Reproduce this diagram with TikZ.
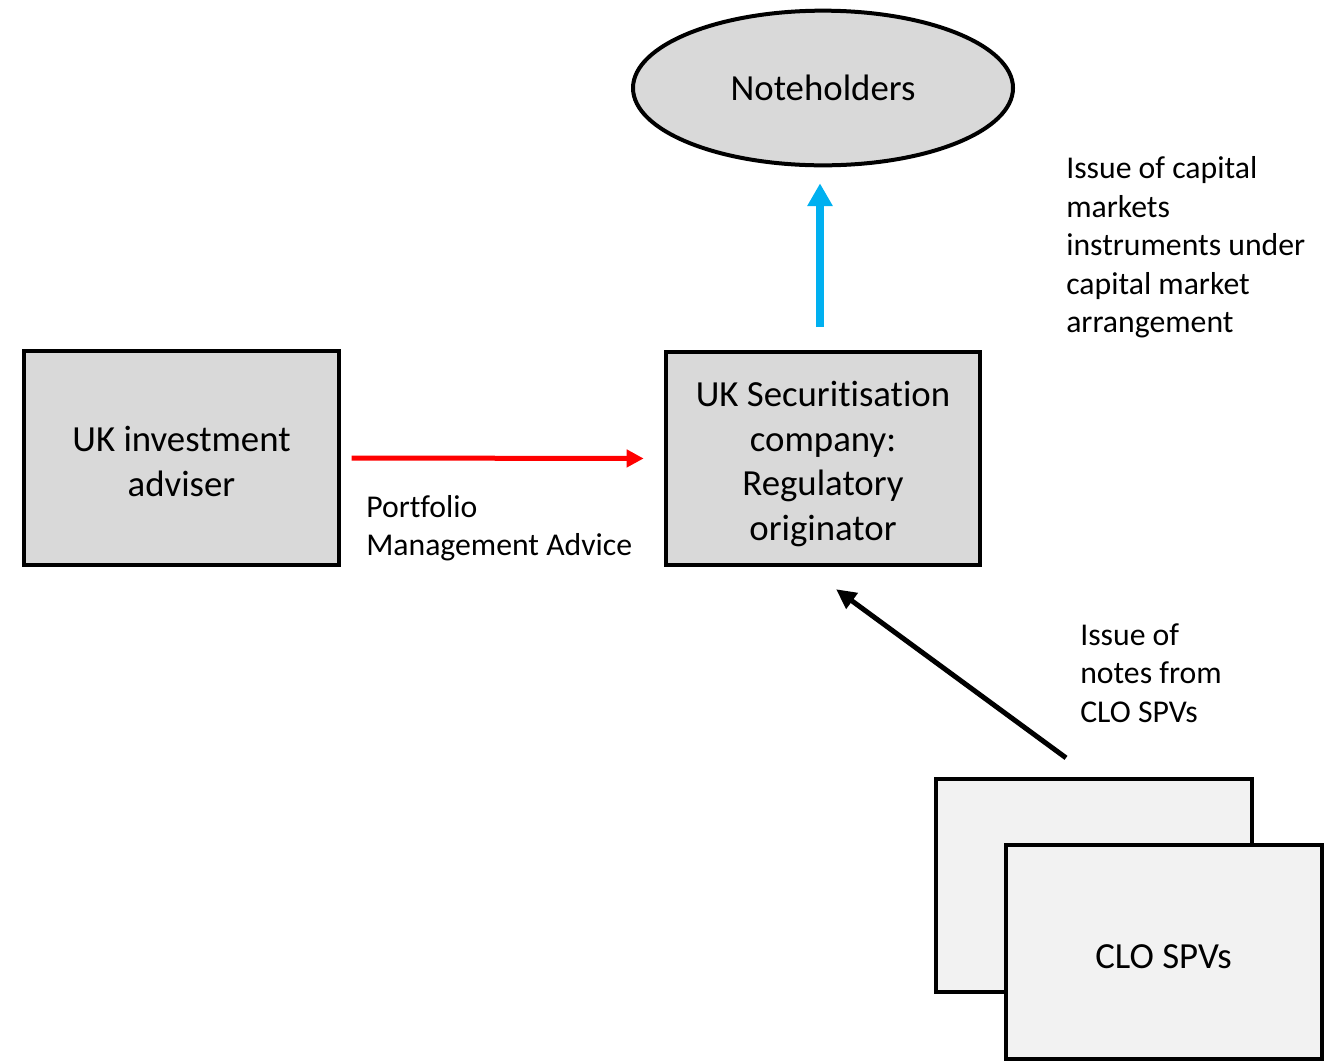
\documentclass[tikz,border=0pt]{standalone}
\usepackage{fontspec}
\setmainfont{Carlito}[Ligatures={NoCommon}]
\usetikzlibrary{arrows.meta,shapes.geometric,calc}
\definecolor{boxgray}{HTML}{D9D9D9}
\definecolor{lightgray2}{HTML}{F2F2F2}
\definecolor{arrblue}{HTML}{00B0F0}
\definecolor{arrred}{HTML}{FF0000}
\begin{document}
\begin{tikzpicture}[x=0.75pt,y=-0.75pt,
  mainbox/.style={draw=black,line width=3pt,fill=boxgray,inner sep=0pt,
    minimum width=236pt,minimum height=160pt,align=center,
    font=\fontsize{27.6}{33.5}\selectfont},
  clobox/.style={draw=black,line width=3pt,fill=lightgray2,inner sep=0pt,
    minimum width=237pt,minimum height=160pt,align=center,
    font=\fontsize{27.6}{33.5}\selectfont},
  lbl/.style={inner sep=0pt,align=left,anchor=west,
    font=\fontsize{23.8}{28.8}\selectfont},
  conn/.style={line width=3.75pt}]
\useasboundingbox (0,0) rectangle (1334,1061);

\node[ellipse,draw=black,line width=3pt,fill=boxgray,inner sep=0pt,
  minimum width=285pt,minimum height=116pt,
  font=\fontsize{27.6}{33.5}\selectfont] (note) at (823,88) {Noteholders};

\node[mainbox] (adv) at (181.5,458) {\rule{0pt}{24.5pt}UK investment\\adviser};
\node[mainbox] (sec) at (823,458.5) {\rule{0pt}{27pt}UK Securitisation\\company:\\Regulatory\\originator};

\node[clobox] (back) at (1094,885.5) {};
\node[clobox] (front) at (1163.5,952) {\rule{0pt}{25pt}CLO SPVs};

\node[lbl] (l1) at (1066,247.5) {Issue of capital\\markets\\instruments under\\capital market\\arrangement};
\node[lbl] (l2) at (1080,673) {Issue of\\notes from\\CLO SPVs};
\node[lbl] (l3) at (366,528) {Portfolio\\Management Advice};

\draw[conn,draw=arrred,-{Triangle[length=12.75pt,width=12.75pt]},
  shorten <=8pt,shorten >=15pt] (adv.east) -- (sec.west);
\draw[line width=6pt,draw=arrblue,-{Triangle[length=17pt,width=18pt]},
  shorten <=17pt,shorten >=12pt] ([xshift=-2.25pt]sec.north) -- ([xshift=-2.25pt]note.south);
\draw[conn,draw=black,-{Triangle[length=15pt,width=14pt]}]
  ($(back.north)+(-28,-19)$) -- ($(sec.south)+(13,22)$);
\end{tikzpicture}
\end{document}
